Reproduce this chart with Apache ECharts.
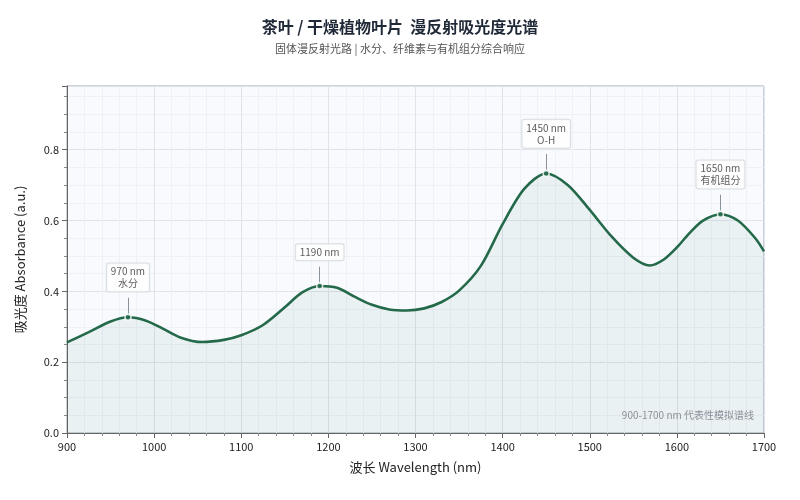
<!DOCTYPE html>
<html>
<head>
<meta charset="utf-8">
<script src="https://cdn.jsdelivr.net/npm/echarts@6/dist/echarts.min.js"></script>
<style>html,body{margin:0;padding:0;background:#fff}#container{width:800px;height:500px}</style>
</head>
<body>
<div id="container"></div>
<script>
// 光谱数据（波长 nm / 吸光度）
var wavelengths = [900, 925, 950, 970, 990, 1010, 1030, 1055, 1080, 1100, 1125, 1150, 1170, 1190, 1210, 1230, 1250, 1270, 1290, 1310, 1330, 1350, 1375, 1400, 1425, 1450, 1475, 1500, 1525, 1550, 1569, 1585, 1600, 1615, 1630, 1650, 1670, 1690, 1700];
var absorbance = [0.256, 0.285, 0.315, 0.327, 0.318, 0.295, 0.270, 0.257, 0.263, 0.276, 0.305, 0.355, 0.397, 0.415, 0.410, 0.385, 0.362, 0.349, 0.346, 0.352, 0.370, 0.402, 0.472, 0.590, 0.690, 0.733, 0.700, 0.630, 0.555, 0.495, 0.473, 0.490, 0.524, 0.566, 0.600, 0.618, 0.600, 0.550, 0.513];
// 峰位标注
var peakX = [970, 1190, 1450, 1650];
var peakY = [0.327, 0.415, 0.733, 0.618];
var peakNames = ['970 nm\n水分', '1190 nm', '1450 nm\nO-H', '1650 nm\n有机组分'];

var lineData = wavelengths.map(function (w, i) { return [w, absorbance[i]]; });
var peakData = peakX.map(function (x, i) { return { value: [x, peakY[i]], name: peakNames[i] }; });
var leaderLines = peakX.map(function (x, i) {
	return [{ coord: [x, peakY[i] + 0.01] }, { coord: [x, peakY[i] + 0.055] }];
});

var font = '"Noto Sans CJK SC", "Noto Sans", sans-serif';
var myChart = echarts.init(document.getElementById('container'));
myChart.setOption({
	animation: false,
	textStyle: { fontFamily: font },
	title: {
		text: '茶叶 / 干燥植物叶片  漫反射吸光度光谱',
		subtext: '固体漫反射光路 | 水分、纤维素与有机组分综合响应',
		left: 'center',
		top: 14,
		itemGap: 8,
		textStyle: { fontSize: 16, fontWeight: 'bold', color: '#1f2937', fontFamily: font },
		subtextStyle: { fontSize: 11, color: '#555', fontFamily: font }
	},
	grid: { left: 67, right: 36, top: 86, bottom: 67, show: true, backgroundColor: '#f8fafd', borderColor: '#9ca3af', borderWidth: 1 },
	xAxis: {
		type: 'value', min: 900, max: 1700, interval: 100,
		name: '波长 Wavelength (nm)', nameLocation: 'middle', nameGap: 28,
		nameTextStyle: { fontSize: 13, color: '#222' },
		axisLine: { lineStyle: { color: '#666' } },
		axisTick: { lineStyle: { color: '#666' } },
		minorTick: { show: true, splitNumber: 5, lineStyle: { color: '#888' } },
		axisLabel: { color: '#222', fontSize: 11, formatter: function (v) { return String(v); } },
		splitLine: { lineStyle: { color: '#dfe3ea' } },
		minorSplitLine: { show: true, lineStyle: { color: '#eef1f6' } }
	},
	yAxis: {
		type: 'value', min: 0, max: 0.98, interval: 0.2,
		name: '吸光度 Absorbance (a.u.)', nameLocation: 'middle', nameGap: 40, nameRotate: 90,
		nameTextStyle: { fontSize: 13, color: '#222' },
		axisLine: { show: true, lineStyle: { color: '#666' } },
		axisTick: { show: true, lineStyle: { color: '#666' } },
		minorTick: { show: true, splitNumber: 4, lineStyle: { color: '#888' } },
		axisLabel: { color: '#222', fontSize: 11, showMaxLabel: false, formatter: function (v) { return v > 0.9 ? '' : v.toFixed(1); } },
		splitLine: { lineStyle: { color: '#dfe3ea' } },
		minorSplitLine: { show: true, lineStyle: { color: '#eef1f6' } }
	},
	graphic: [{
		type: 'text', right: 46, bottom: 80, z: 10,
		style: { text: '900-1700 nm 代表性模拟谱线', fill: '#8a8f98', fontSize: 10, fontFamily: font }
	}],
	series: [
		{
			type: 'line', data: lineData, smooth: 0.3, showSymbol: false,
			lineStyle: { color: '#23694a', width: 2.6 },
			areaStyle: { color: 'rgba(35,105,74,0.09)' },
			markLine: {
				silent: true, symbol: 'none', label: { show: false },
				lineStyle: { color: '#8a929c', width: 1, type: 'solid' },
				data: leaderLines
			}
		},
		{
			type: 'scatter', data: peakData, symbol: 'circle', symbolSize: 6,
			itemStyle: { color: '#23694a', borderColor: '#fff', borderWidth: 1.5 },
			label: {
				show: true, position: 'top', distance: 22,
				formatter: function (p) { return p.name; },
				fontSize: 10, color: '#333', lineHeight: 12,
				backgroundColor: '#fff', borderColor: '#cfd5dc', borderWidth: 1, borderRadius: 2,
				padding: [2, 4]
			},
			z: 5
		}
	]
});
</script>
</body>
</html>
